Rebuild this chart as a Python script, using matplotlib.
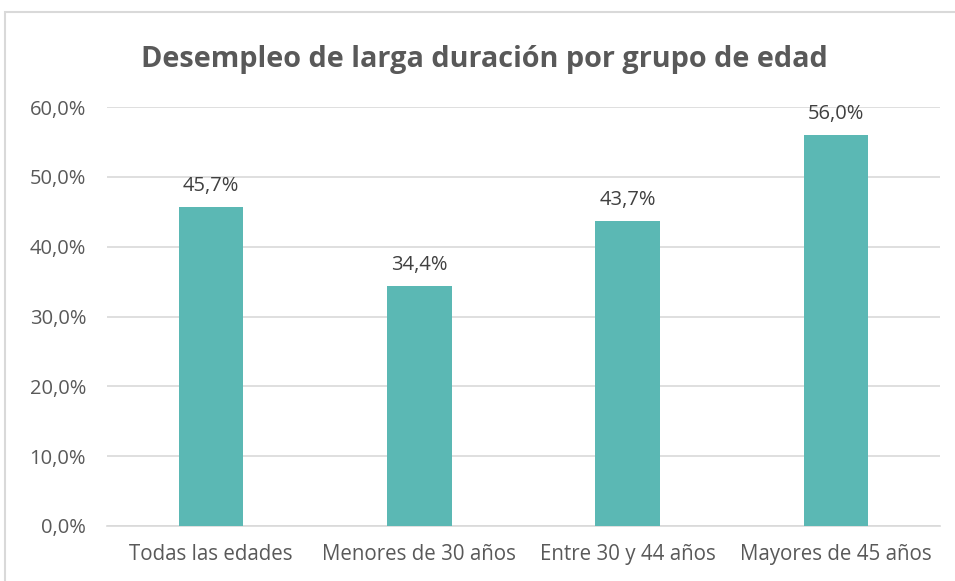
import numpy as np
import matplotlib.pyplot as plt
from matplotlib.patches import Rectangle
from matplotlib.ticker import FuncFormatter

# Datos
categorias = ['Todas las edades', 'Menores de 30 años', 'Entre 30 y 44 años', 'Mayores de 45 años']
valores = [45.7, 34.4, 43.7, 56.0]
titulo = 'Desempleo de larga duración por grupo de edad'

color_barra = '#5BB8B4'
color_texto = '#595959'
color_grid = '#D9D9D9'

plt.rcParams['font.family'] = ['Open Sans', 'DejaVu Sans']

fig = plt.figure(figsize=(9.55, 5.81), dpi=100)
ax = fig.add_axes([107/955, 1 - 526/581, (940-107)/955, (526-107)/581])

x = np.arange(len(categorias))
ax.bar(x, valores, width=0.31, color=color_barra, zorder=3)

for xi, v in zip(x, valores):
    ax.text(xi, v + 1.6, f'{v:.1f}%'.replace('.', ','), ha='center', va='bottom',
            fontsize=14.5, color='#404040')

ax.set_xlim(-0.5, len(categorias) - 0.5)
ax.set_ylim(0, 60)
ax.set_yticks(np.arange(0, 61, 10))
ax.yaxis.set_major_formatter(FuncFormatter(lambda v, p: f'{v:.1f}%'.replace('.', ',')))
ax.set_xticks(x)
ax.set_xticklabels(categorias)
ax.grid(axis='y', color=color_grid, linewidth=1.2, zorder=0)
for s in ['top', 'right', 'left']:
    ax.spines[s].set_visible(False)
ax.spines['bottom'].set_color(color_grid)
ax.spines['bottom'].set_linewidth(1.2)
ax.tick_params(axis='both', length=0, labelsize=14.5, colors=color_texto)
ax.tick_params(axis='x', labelsize=14.8)
ax.tick_params(axis='y', pad=15)
ax.tick_params(axis='x', pad=13)

fig.text(0.5075, 1 - 59/581, titulo, ha='center', va='center', fontsize=20.8,
         fontweight='bold', color=color_texto)

# borde del gráfico
fig.patches.append(Rectangle((5/955, -0.01), 1.0, 1 - 12/581 + 0.01, transform=fig.transFigure,
                             fill=False, edgecolor='#D9D9D9', linewidth=1.5))

fig.savefig('out.png', dpi=100)
